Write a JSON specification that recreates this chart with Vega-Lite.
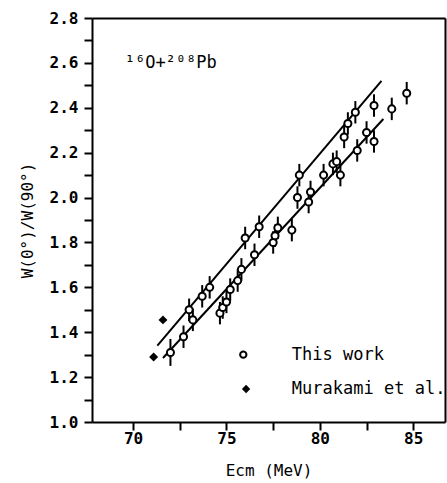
{
  "$schema": "https://vega.github.io/schema/vega-lite/v6.json",
  "width": 353,
  "height": 404,
  "autosize": "none",
  "padding": {"left": 92, "top": 18, "right": 2, "bottom": 61},
  "background": "white",
  "config": {
    "view": {"stroke": null},
    "font": "DejaVu Sans Mono",
    "axis": {
      "domainColor": "black", "domainWidth": 2,
      "labelColor": "black", "titleColor": "black", "labelFont": "DejaVu Sans Mono",
      "titleFont": "DejaVu Sans Mono", "labelFontSize": 16, "titleFontSize": 16,
      "labelFontWeight": "bold", "titleFontWeight": "normal", "grid": false
    }
  },
  "datasets": {
    "points": [
      {"src": "This work", "E": 72.0, "W": 1.31, "err": 0.06},
      {"src": "This work", "E": 72.7, "W": 1.38, "err": 0.05},
      {"src": "This work", "E": 73.0, "W": 1.50, "err": 0.05},
      {"src": "This work", "E": 73.2, "W": 1.455, "err": 0.05},
      {"src": "This work", "E": 73.7, "W": 1.56, "err": 0.05},
      {"src": "This work", "E": 74.1, "W": 1.60, "err": 0.05},
      {"src": "This work", "E": 74.65, "W": 1.485, "err": 0.05},
      {"src": "This work", "E": 74.8, "W": 1.51, "err": 0.05},
      {"src": "This work", "E": 75.0, "W": 1.535, "err": 0.05},
      {"src": "This work", "E": 75.2, "W": 1.59, "err": 0.05},
      {"src": "This work", "E": 75.6, "W": 1.63, "err": 0.05},
      {"src": "This work", "E": 75.8, "W": 1.68, "err": 0.05},
      {"src": "This work", "E": 76.0, "W": 1.82, "err": 0.05},
      {"src": "This work", "E": 76.5, "W": 1.745, "err": 0.05},
      {"src": "This work", "E": 76.75, "W": 1.87, "err": 0.05},
      {"src": "This work", "E": 77.5, "W": 1.80, "err": 0.05},
      {"src": "This work", "E": 77.6, "W": 1.83, "err": 0.05},
      {"src": "This work", "E": 77.75, "W": 1.865, "err": 0.05},
      {"src": "This work", "E": 78.5, "W": 1.855, "err": 0.05},
      {"src": "This work", "E": 78.8, "W": 2.00, "err": 0.05},
      {"src": "This work", "E": 78.9, "W": 2.10, "err": 0.05},
      {"src": "This work", "E": 79.4, "W": 1.98, "err": 0.05},
      {"src": "This work", "E": 79.5, "W": 2.025, "err": 0.05},
      {"src": "This work", "E": 80.2, "W": 2.10, "err": 0.05},
      {"src": "This work", "E": 80.7, "W": 2.15, "err": 0.05},
      {"src": "This work", "E": 80.9, "W": 2.16, "err": 0.05},
      {"src": "This work", "E": 81.1, "W": 2.10, "err": 0.05},
      {"src": "This work", "E": 81.3, "W": 2.27, "err": 0.05},
      {"src": "This work", "E": 81.5, "W": 2.33, "err": 0.05},
      {"src": "This work", "E": 81.9, "W": 2.38, "err": 0.05},
      {"src": "This work", "E": 82.0, "W": 2.21, "err": 0.05},
      {"src": "This work", "E": 82.5, "W": 2.29, "err": 0.05},
      {"src": "This work", "E": 82.9, "W": 2.25, "err": 0.05},
      {"src": "This work", "E": 82.9, "W": 2.41, "err": 0.05},
      {"src": "This work", "E": 83.85, "W": 2.395, "err": 0.05},
      {"src": "This work", "E": 84.65, "W": 2.465, "err": 0.05},
      {"src": "Murakami et al.", "E": 71.1, "W": 1.29, "err": 0},
      {"src": "Murakami et al.", "E": 71.6, "W": 1.455, "err": 0}
    ],
    "fits": [
      {"line": "upper", "E": 71.3, "W": 1.34},
      {"line": "upper", "E": 83.3, "W": 2.52},
      {"line": "lower", "E": 71.6, "W": 1.285},
      {"line": "lower", "E": 83.4, "W": 2.35}
    ],
    "legend": [
      {"label": "This work", "shape": "circle", "E": 75.9, "W": 1.30, "tx": 78.5},
      {"label": "Murakami et al.", "shape": "diamond", "E": 76.05, "W": 1.147, "tx": 78.5}
    ],
    "notes": [
      {"text": "¹⁶O+²⁰⁸Pb", "E": 69.55, "W": 2.60}
    ]
  },
  "encoding": {
    "x": {"field": "E", "type": "quantitative", "scale": {"domain": [67.8, 86.7], "nice": false, "zero": false}, "axis": null},
    "y": {"field": "W", "type": "quantitative", "scale": {"domain": [1.0, 2.8], "nice": false, "zero": false}, "axis": null}
  },
  "resolve": {"axis": {"x": "independent", "y": "independent"}},
  "layer": [
    {
      "data": {"name": "fits"},
      "mark": {"type": "point", "opacity": 0},
      "encoding": {
        "x": {"field": "E", "type": "quantitative", "scale": {"domain": [67.8, 86.7], "nice": false, "zero": false},
          "axis": {"orient": "bottom", "title": "Ecm (MeV)", "values": [70, 72.5, 75, 77.5, 80, 82.5, 85],
            "labelExpr": "datum.value % 5 == 0 ? datum.label : ''",
            "ticks": true, "tickColor": "black", "tickWidth": 2, "tickOpacity": 1, "tickSize": 8,
            "labelPadding": 0, "titlePadding": 16}},
        "y": {"field": "W", "type": "quantitative", "scale": {"domain": [1.0, 2.8], "nice": false, "zero": false},
          "axis": {"orient": "left", "title": "W(0°)/W(90°)", "format": ".1f",
            "values": [1.0, 1.1, 1.2, 1.3, 1.4, 1.5, 1.6, 1.7, 1.8, 1.9, 2.0, 2.1, 2.2, 2.3, 2.4, 2.5, 2.6, 2.7, 2.8],
            "labelExpr": "round(datum.value * 10) % 2 == 0 ? datum.label : ''",
            "ticks": true, "tickColor": "black", "tickWidth": 2, "tickOpacity": 1, "tickSize": 8,
            "labelPadding": 6, "titlePadding": 14}}
      }
    },
    {
      "data": {"name": "fits"},
      "mark": {"type": "point", "opacity": 0},
      "encoding": {
        "x": {"field": "E", "type": "quantitative", "scale": {"domain": [67.8, 86.7], "nice": false, "zero": false},
          "axis": {"orient": "top", "title": null, "labels": false, "ticks": false}},
        "y": {"field": "W", "type": "quantitative", "scale": {"domain": [1.0, 2.8], "nice": false, "zero": false},
          "axis": {"orient": "right", "title": null, "labels": false, "ticks": false}}
      }
    },
    {
      "data": {"name": "fits"},
      "mark": {"type": "line", "color": "black", "strokeWidth": 2},
      "encoding": {"detail": {"field": "line", "type": "nominal"}}
    },
    {
      "data": {"name": "points"},
      "transform": [{"filter": "datum.src == 'This work'"}],
      "mark": {"type": "errorbar", "ticks": false, "color": "black", "rule": {"strokeWidth": 2}},
      "encoding": {"yError": {"field": "err"}}
    },
    {
      "data": {"name": "points"},
      "transform": [{"filter": "datum.src == 'This work'"}],
      "mark": {"type": "point", "shape": "circle", "filled": true, "fill": "white", "stroke": "black", "strokeWidth": 2, "size": 50, "opacity": 1}
    },
    {
      "data": {"name": "points"},
      "transform": [{"filter": "datum.src != 'This work'"}],
      "mark": {"type": "point", "shape": "diamond", "filled": true, "color": "black", "size": 80, "opacity": 1}
    },
    {
      "data": {"name": "legend"},
      "mark": {"type": "point", "filled": true, "fill": "white", "stroke": "black", "strokeWidth": 2, "size": 40, "opacity": 1},
      "transform": [{"filter": "datum.shape == 'circle'"}]
    },
    {
      "data": {"name": "legend"},
      "mark": {"type": "point", "shape": "diamond", "filled": true, "color": "black", "size": 70, "opacity": 1},
      "transform": [{"filter": "datum.shape == 'diamond'"}]
    },
    {
      "data": {"name": "legend"},
      "mark": {"type": "text", "align": "left", "baseline": "middle", "font": "DejaVu Sans Mono", "fontSize": 17, "color": "black"},
      "encoding": {
        "x": {"field": "tx", "type": "quantitative", "scale": {"domain": [67.8, 86.7], "nice": false, "zero": false}, "axis": null},
        "text": {"field": "label"}
      }
    },
    {
      "data": {"name": "notes"},
      "mark": {"type": "text", "align": "left", "baseline": "middle", "font": "DejaVu Sans Mono", "fontSize": 17, "color": "black"},
      "encoding": {"text": {"field": "text"}}
    }
  ]
}
